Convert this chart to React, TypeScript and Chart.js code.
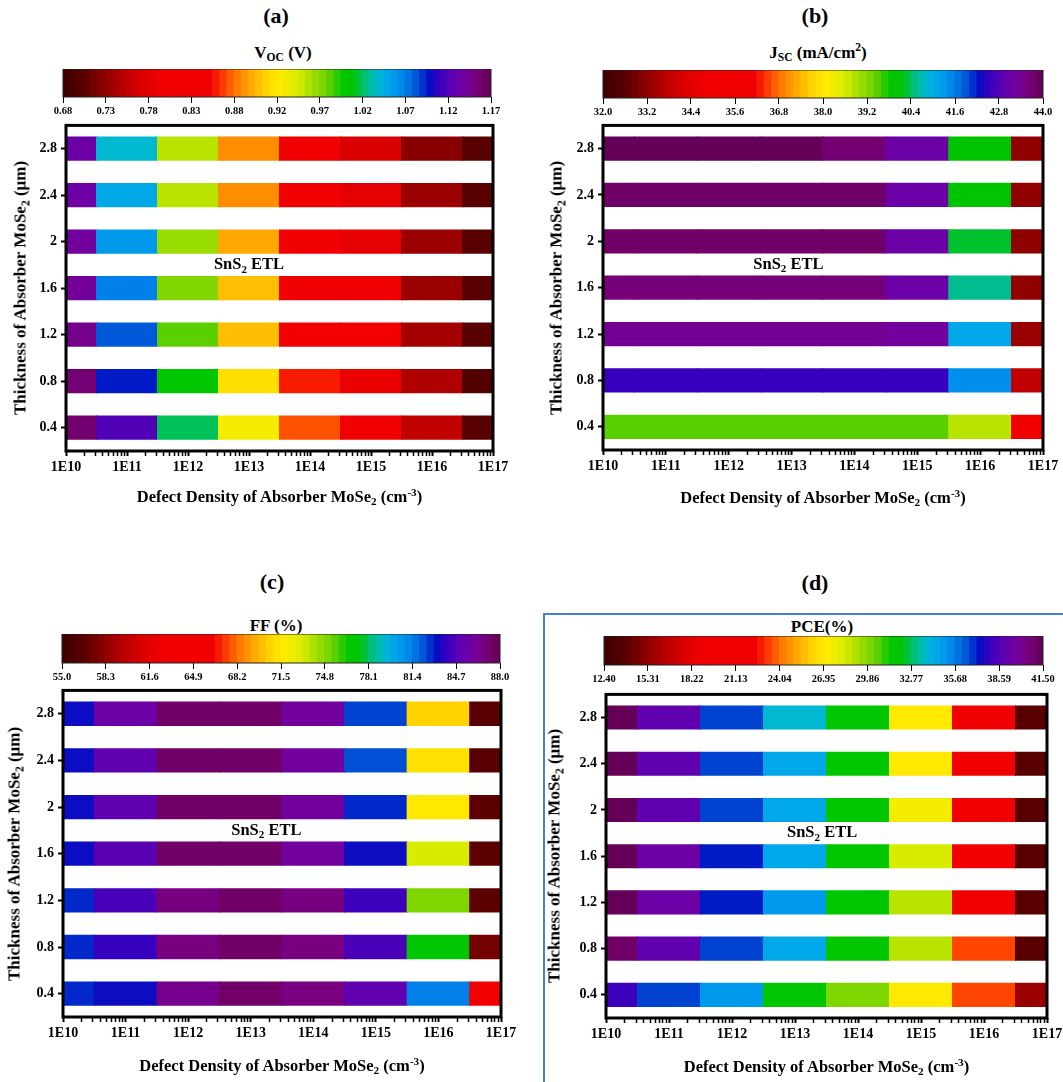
import React, { useEffect, useRef } from 'react';
import Chart from 'chart.js/auto';

const FONT = "'Liberation Serif', 'Times New Roman', serif";

// ---------- data ----------
const defectExponents = [10, 11, 12, 13, 14, 15, 16, 17];
const defectTickLabels = ['1E10', '1E11', '1E12', '1E13', '1E14', '1E15', '1E16', '1E17'];
const thicknesses = [0.4, 0.8, 1.2, 1.6, 2.0, 2.4, 2.8];
const thicknessLabels = ['0.4', '0.8', '1.2', '1.6', '2', '2.4', '2.8'];

const vocRange = [0.68, 1.17];
const vocTicks = ['0.68', '0.73', '0.78', '0.83', '0.88', '0.92', '0.97', '1.02', '1.07', '1.12', '1.17'];
// rows: thickness 0.4 -> 2.8, columns: 1E10 -> 1E17
const vocGrid = [
  [1.160, 1.121, 1.023, 0.935, 0.869, 0.810, 0.754, 0.705],
  [1.158, 1.097, 1.003, 0.920, 0.856, 0.790, 0.745, 0.700],
  [1.148, 1.084, 0.986, 0.905, 0.817, 0.817, 0.739, 0.705],
  [1.143, 1.072, 0.976, 0.905, 0.817, 0.817, 0.734, 0.705],
  [1.141, 1.060, 0.969, 0.896, 0.817, 0.783, 0.734, 0.705],
  [1.136, 1.052, 0.959, 0.886, 0.817, 0.778, 0.734, 0.705],
  [1.136, 1.040, 0.959, 0.886, 0.817, 0.770, 0.726, 0.705],
];

const jscRange = [32.0, 44.0];
const jscTicks = ['32.0', '33.2', '34.4', '35.6', '36.8', '38.0', '39.2', '40.4', '41.6', '42.8', '44.0'];
const jscGrid = [
  [39.50, 39.50, 39.50, 39.50, 39.50, 39.50, 38.84, 35.36],
  [42.56, 42.56, 42.56, 42.56, 42.56, 42.56, 41.42, 33.80],
  [43.40, 43.40, 43.40, 43.40, 43.40, 43.28, 41.12, 33.32],
  [43.64, 43.64, 43.64, 43.64, 43.64, 43.16, 40.58, 33.20],
  [43.82, 43.82, 43.82, 43.82, 43.82, 43.16, 40.28, 33.20],
  [43.82, 43.82, 43.82, 43.82, 43.82, 43.16, 40.16, 33.20],
  [43.94, 43.94, 43.94, 43.94, 43.70, 43.16, 40.16, 33.20],
];

const ffRange = [55.0, 88.0];
const ffTicks = ['55.0', '58.3', '61.6', '64.9', '68.2', '71.5', '74.8', '78.1', '81.4', '84.7', '88.0'];
const ffGrid = [
  [82.90, 83.38, 86.50, 87.50, 86.85, 85.20, 81.40, 64.24],
  [82.90, 84.00, 86.85, 87.50, 86.85, 84.50, 76.90, 57.50],
  [82.90, 84.50, 86.85, 87.50, 86.85, 84.20, 74.97, 56.80],
  [83.38, 84.90, 87.50, 87.50, 86.00, 83.38, 73.15, 56.80],
  [83.38, 85.20, 87.50, 87.50, 86.00, 82.90, 71.70, 56.80],
  [83.38, 85.20, 87.50, 87.50, 86.00, 82.40, 71.30, 56.65],
  [83.38, 85.69, 87.50, 87.50, 86.00, 82.56, 70.68, 56.65],
];

const pceRange = [12.4, 41.5];
const pceTicks = ['12.40', '15.31', '18.22', '21.13', '24.04', '26.95', '29.86', '32.77', '35.68', '38.59', '41.50'];
const pceGrid = [
  [38.15, 36.70, 34.95, 31.90, 30.00, 27.10, 23.46, 15.60],
  [41.06, 39.03, 36.70, 34.52, 31.90, 28.99, 23.46, 13.86],
  [41.35, 39.46, 37.14, 34.95, 31.90, 28.99, 20.55, 13.86],
  [41.35, 39.46, 37.14, 34.52, 31.90, 28.40, 20.55, 13.86],
  [41.35, 39.03, 36.70, 34.52, 31.90, 27.53, 20.55, 13.86],
  [41.35, 39.03, 36.70, 34.52, 31.90, 27.10, 20.55, 13.86],
  [41.35, 39.03, 36.70, 33.79, 31.75, 27.10, 20.55, 13.86],
];

// ---------- colour scale ----------
const colorStops: [number, string][] = [
  [0.0, '#3c0000'], [0.05, '#580000'], [0.1, '#900000'], [0.15, '#c00000'],
  [0.2, '#e40000'], [0.24, '#f00000'], [0.345, '#f00000'], [0.37, '#ff3000'],
  [0.4, '#ff7000'], [0.44, '#ffa800'], [0.48, '#ffd800'], [0.51, '#ffec00'],
  [0.55, '#d8ec00'], [0.58, '#a8e000'], [0.62, '#68d000'], [0.655, '#00c800'],
  [0.68, '#00c400'], [0.705, '#00c070'], [0.735, '#00b8d0'], [0.765, '#00a4ee'],
  [0.8, '#0080e8'], [0.83, '#0050d4'], [0.855, '#0010c4'], [0.875, '#3000c0'],
  [0.905, '#5800b4'], [0.935, '#7000a4'], [0.965, '#780080'], [0.985, '#700068'],
  [1.0, '#600050'],
];
const COLORBAR_STEPS = 60;

function hexRgb(h: string) {
  return [parseInt(h.slice(1, 3), 16), parseInt(h.slice(3, 5), 16), parseInt(h.slice(5, 7), 16)];
}
function cmap(t: number) {
  const tt = Math.max(0, Math.min(1, t));
  for (let i = 1; i < colorStops.length; i++) {
    const [t1, c1] = colorStops[i];
    if (tt <= t1) {
      const [t0, c0] = colorStops[i - 1];
      const f = t1 === t0 ? 0 : (tt - t0) / (t1 - t0);
      const a = hexRgb(c0), b = hexRgb(c1);
      const r = a.map((v, k) => Math.round(v + (b[k] - v) * f));
      return `rgb(${r[0]},${r[1]},${r[2]})`;
    }
  }
  return colorStops[colorStops.length - 1][1];
}

// ---------- panels ----------
const Sub = ({ children }: any) => (
  <span style={{ fontSize: '0.68em', verticalAlign: '-0.32em', lineHeight: 0 }}>{children}</span>
);
const Sup = ({ children }: any) => (
  <span style={{ fontSize: '0.68em', verticalAlign: '0.55em', lineHeight: 0 }}>{children}</span>
);

const PANELS = [
  {
    key: 'a', letter: '(a)', letterPos: [276, 16],
    cbTitle: <>V<Sub>OC</Sub> (V)</>, cbTitlePos: [283, 52],
    cb: { l: 63, t: 69, r: 491, b: 97 }, plot: { l: 66, t: 125, r: 493, b: 451 },
    yTitleX: 20, xTitleY: 497, range: vocRange, ticks: vocTicks, grid: vocGrid, annExp: 13.0,
  },
  {
    key: 'b', letter: '(b)', letterPos: [815, 16],
    cbTitle: <>J<Sub>SC</Sub> (mA/cm<Sup>2</Sup>)</>, cbTitlePos: [818, 52],
    cb: { l: 603, t: 70, r: 1043, b: 98 }, plot: { l: 603, t: 125, r: 1043, b: 450 },
    yTitleX: 556, xTitleY: 498, range: jscRange, ticks: jscTicks, grid: jscGrid, annExp: 12.95,
  },
  {
    key: 'c', letter: '(c)', letterPos: [272, 582],
    cbTitle: <>FF (%)</>, cbTitlePos: [276, 625],
    cb: { l: 62, t: 634, r: 500, b: 663 }, plot: { l: 63, t: 690, r: 501, b: 1017 },
    yTitleX: 14, xTitleY: 1066, range: ffRange, ticks: ffTicks, grid: ffGrid, annExp: 13.25,
  },
  {
    key: 'd', letter: '(d)', letterPos: [815, 583],
    cbTitle: <>PCE(%)</>, cbTitlePos: [822, 626],
    cb: { l: 604, t: 636, r: 1043, b: 665 }, plot: { l: 606, t: 694, r: 1047, b: 1018 },
    yTitleX: 554, xTitleY: 1067, range: pceRange, ticks: pceTicks, grid: pceGrid, annExp: 13.43,
  },
];

const CB_PAD = 26, CB_AXIS_H = 24;
const Y_AXIS_W = 40, PLOT_PAD_TOP = 12, PLOT_PAD_RIGHT = 24, X_AXIS_H = 30;

function colorbarConfig(p: any) {
  const [vmin, vmax] = p.range;
  const steps = Array.from({ length: COLORBAR_STEPS }, (_, i) => i);
  const dv = (vmax - vmin) / COLORBAR_STEPS;
  const borderPlugin = {
    id: 'cbBorder',
    afterDatasetsDraw(chart: any) {
      const { ctx, chartArea: a } = chart;
      ctx.save();
      ctx.strokeStyle = '#222';
      ctx.lineWidth = 1;
      ctx.strokeRect(a.left, a.top, a.right - a.left, a.bottom - a.top);
      ctx.restore();
    },
  };
  return {
    type: 'bar',
    data: {
      labels: ['cb'],
      datasets: [{
        data: steps.map((i) => ({ x: [vmin + i * dv, vmin + (i + 1) * dv], y: 'cb' })),
        backgroundColor: steps.map((i) => cmap((i + 0.5) / COLORBAR_STEPS)),
        borderWidth: 0,
        barPercentage: 1,
        categoryPercentage: 1,
        grouped: false,
        inflateAmount: 0.6,
      }],
    },
    options: {
      indexAxis: 'y',
      animation: false,
      responsive: false,
      events: [],
      layout: { padding: { left: CB_PAD, right: CB_PAD, top: 0, bottom: 0 } },
      plugins: { legend: { display: false }, tooltip: { enabled: false }, title: { display: false } },
      scales: {
        y: { type: 'category', display: false },
        x: {
          type: 'linear', min: vmin, max: vmax, position: 'bottom',
          border: { display: false },
          grid: { drawOnChartArea: false, drawTicks: true, tickLength: 6, color: '#000', tickWidth: 1 },
          afterBuildTicks: (s: any) => {
            s.ticks = p.ticks.map((_: string, i: number) => ({ value: vmin + (i * (vmax - vmin)) / (p.ticks.length - 1) }));
          },
          afterFit: (s: any) => { s.height = CB_AXIS_H; },
          ticks: {
            autoSkip: false, maxRotation: 0, minRotation: 0, padding: 2, color: '#000',
            font: { family: FONT, size: 10.5, weight: 'bold' },
            callback: (_v: any, i: number) => p.ticks[i],
          },
        },
      },
    },
    plugins: [borderPlugin],
  };
}

function heatmapConfig(p: any) {
  const [vmin, vmax] = p.range;
  const cells: any[] = [];
  const colors: string[] = [];
  thicknesses.forEach((th, r) => {
    defectExponents.forEach((e, c) => {
      const lo = Math.pow(10, Math.max(defectExponents[0], e - 0.5));
      const hi = Math.pow(10, Math.min(defectExponents[defectExponents.length - 1], e + 0.5));
      cells.push({ x: [lo, hi], y: th });
      colors.push(cmap((p.grid[r][c] - vmin) / (vmax - vmin)));
    });
  });
  const framePlugin = {
    id: 'frame',
    afterDatasetsDraw(chart: any) {
      const { ctx, chartArea: a, scales } = chart;
      ctx.save();
      ctx.strokeStyle = '#000';
      ctx.lineWidth = 3;
      ctx.strokeRect(a.left, a.top, a.right - a.left, a.bottom - a.top);
      // annotation
      const px = scales.x.getPixelForValue(Math.pow(10, p.annExp));
      const py = scales.y.getPixelForValue(1.8);
      const big = `bold 16.5px ${FONT}`, small = `bold 11px ${FONT}`;
      ctx.font = big;
      const w1 = ctx.measureText('SnS').width;
      const w3 = ctx.measureText(' ETL').width;
      ctx.font = small;
      const w2 = ctx.measureText('2').width;
      const sx = px - (w1 + w2 + w3) / 2;
      ctx.fillStyle = '#000';
      ctx.textBaseline = 'middle';
      ctx.textAlign = 'left';
      ctx.font = big; ctx.fillText('SnS', sx, py);
      ctx.font = small; ctx.fillText('2', sx + w1, py + 5);
      ctx.font = big; ctx.fillText(' ETL', sx + w1 + w2, py);
      ctx.restore();
    },
  };
  const xmin = Math.pow(10, defectExponents[0]);
  const xmax = Math.pow(10, defectExponents[defectExponents.length - 1]);
  return {
    type: 'bar',
    data: {
      datasets: [{
        data: cells,
        backgroundColor: colors,
        borderWidth: 0,
        barPercentage: 0.5,
        categoryPercentage: 1,
        grouped: false,
        inflateAmount: 0.5,
      }],
    },
    options: {
      indexAxis: 'y',
      animation: false,
      responsive: false,
      events: [],
      layout: { padding: { left: 0, right: PLOT_PAD_RIGHT, top: PLOT_PAD_TOP, bottom: 0 } },
      plugins: { legend: { display: false }, tooltip: { enabled: false }, title: { display: false } },
      scales: {
        x: {
          type: 'logarithmic', min: xmin, max: xmax, position: 'bottom',
          border: { display: false },
          grid: {
            drawOnChartArea: false, drawTicks: true, tickLength: 5, color: '#000',
            tickWidth: (ctx: any) => (ctx.tick && ctx.tick.major ? 2 : 1.5),
          },
          afterBuildTicks: (s: any) => {
            const t: any[] = [];
            defectExponents.forEach((e, i) => {
              if (i === defectExponents.length - 1) { t.push({ value: Math.pow(10, e), major: true }); return; }
              for (let k = 1; k <= 9; k++) t.push({ value: k * Math.pow(10, e), major: k === 1 });
            });
            s.ticks = t;
          },
          afterFit: (s: any) => { s.height = X_AXIS_H; },
          ticks: {
            autoSkip: false, maxRotation: 0, minRotation: 0, padding: 3, color: '#000',
            font: { family: FONT, size: 14, weight: 'bold' },
            callback: (v: number, i: number, ticks: any[]) =>
              ticks[i] && ticks[i].major ? defectTickLabels[Math.round(Math.log10(v)) - defectExponents[0]] : '',
          },
        },
        y: {
          type: 'linear', min: 0.2, max: 3.0, offset: false, position: 'left',
          border: { display: false },
          grid: { offset: false, drawOnChartArea: false, drawTicks: true, tickLength: 5, color: '#000', tickWidth: 2 },
          afterBuildTicks: (s: any) => { s.ticks = thicknesses.map((v) => ({ value: v })); },
          afterFit: (s: any) => { s.width = Y_AXIS_W; },
          ticks: {
            autoSkip: false, padding: 4, color: '#000',
            font: { family: FONT, size: 14, weight: 'bold' },
            callback: (_v: any, i: number) => thicknessLabels[i],
          },
        },
      },
    },
    plugins: [framePlugin],
  };
}

function Text({ x, y, size, rotate, children }: any) {
  return (
    <div
      style={{
        position: 'absolute', left: x, top: y,
        transform: `translate(-50%, -50%)${rotate ? ' rotate(-90deg)' : ''}`,
        font: `bold ${size}px ${FONT}`, whiteSpace: 'nowrap', lineHeight: 1, color: '#000',
      }}
    >
      {children}
    </div>
  );
}

function Panel({ p }: any) {
  const cbRef = useRef<HTMLCanvasElement>(null);
  const hmRef = useRef<HTMLCanvasElement>(null);
  useEffect(() => {
    const c1 = new Chart(cbRef.current as any, colorbarConfig(p) as any);
    const c2 = new Chart(hmRef.current as any, heatmapConfig(p) as any);
    return () => { c1.destroy(); c2.destroy(); };
  }, []);
  const cbL = p.cb.l - CB_PAD, cbT = p.cb.t;
  const cbW = p.cb.r - p.cb.l + 2 * CB_PAD, cbH = p.cb.b - p.cb.t + CB_AXIS_H;
  const hmL = p.plot.l - Y_AXIS_W, hmT = p.plot.t - PLOT_PAD_TOP;
  const hmW = p.plot.r - hmL + PLOT_PAD_RIGHT, hmH = p.plot.b - hmT + X_AXIS_H;
  const cx = (p.plot.l + p.plot.r) / 2;
  const cy = (p.plot.t + p.plot.b) / 2;
  return (
    <>
      <Text x={p.letterPos[0]} y={p.letterPos[1]} size={22}>{p.letter}</Text>
      <Text x={p.cbTitlePos[0]} y={p.cbTitlePos[1]} size={17}>{p.cbTitle}</Text>
      <canvas ref={cbRef} width={cbW} height={cbH}
        style={{ position: 'absolute', left: cbL, top: cbT, width: cbW, height: cbH }} />
      <canvas ref={hmRef} width={hmW} height={hmH}
        style={{ position: 'absolute', left: hmL, top: hmT, width: hmW, height: hmH }} />
      <Text x={p.yTitleX} y={cy} size={17} rotate>
        Thickness of Absorber MoSe<Sub>2</Sub> (μm)
      </Text>
      <Text x={cx} y={p.xTitleY} size={16.5}>
        Defect Density of Absorber MoSe<Sub>2</Sub> (cm<Sup>-3</Sup>)
      </Text>
    </>
  );
}

export default function App() {
  return (
    <div style={{ position: 'fixed', left: 0, top: 0, width: 1063, height: 1082, background: '#fff', overflow: 'hidden' }}>
      <div style={{ position: 'absolute', left: 543, top: 613, width: 600, height: 600, border: '2px solid #4a7fd0' }} />
      {PANELS.map((p) => <Panel key={p.key} p={p} />)}
    </div>
  );
}
